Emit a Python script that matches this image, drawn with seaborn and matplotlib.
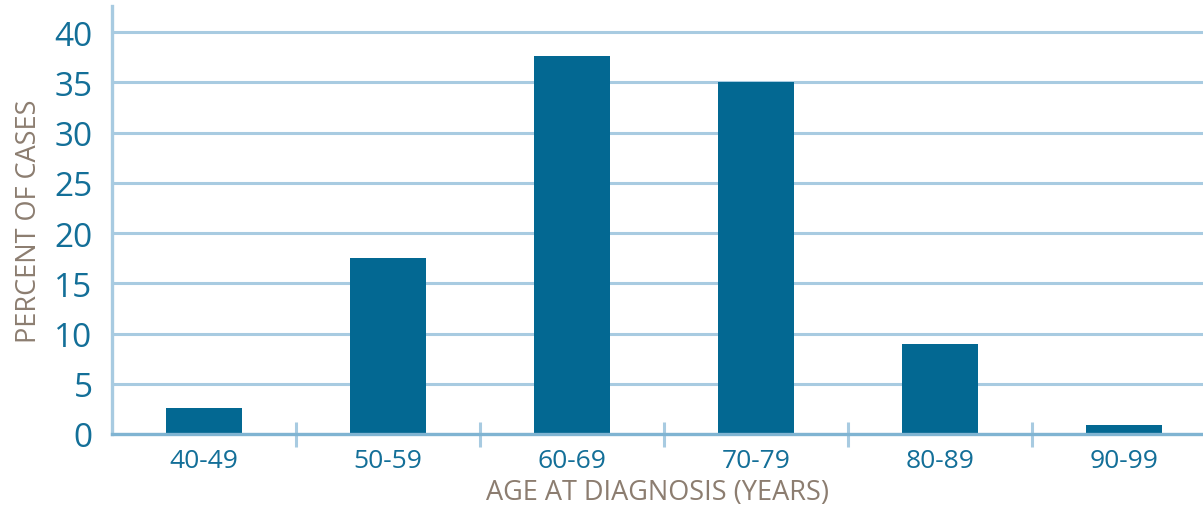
import matplotlib
matplotlib.use("Agg")
import matplotlib.pyplot as plt
import pandas as pd
import seaborn as sns
from matplotlib.ticker import FixedLocator

# data
age_groups = ["40-49", "50-59", "60-69", "70-79", "80-89", "90-99"]
percent_cases = [2.6, 17.5, 37.6, 35.0, 9.0, 0.9]
y_ticks = [0, 5, 10, 15, 20, 25, 30, 35, 40]

df = pd.DataFrame({"age": age_groups, "percent": percent_cases})

sns.set_style("white")
plt.rcParams["font.family"] = ["Open Sans", "DejaVu Sans"]

bar_color = "#036892"
grid_color = "#a8cbe1"
tick_color = "#136f98"
label_color = "#8c7d70"

fig = plt.figure(figsize=(12.03, 5.10), dpi=100)
ax = fig.add_axes([112 / 1203, 1 - 435 / 510, 1 - 112 / 1203, (435 - 7) / 510])

sns.barplot(data=df, x="age", y="percent", color=bar_color, width=0.41,
            saturation=1, linewidth=0, ax=ax, zorder=3)

ax.set_xlim(-0.5, 5.43)
ax.set_ylim(0, 42.6)
ax.set_yticks(y_ticks)
ax.grid(axis="y", color=grid_color, linewidth=2.2, zorder=0)
ax.set_axisbelow(True)

for side in ["top", "right"]:
    ax.spines[side].set_visible(False)
ax.spines["left"].set_color(grid_color)
ax.spines["left"].set_linewidth(2.4)
ax.spines["bottom"].set_color("#80b4d2")
ax.spines["bottom"].set_linewidth(2.4)
ax.spines["bottom"].set_zorder(4)

# separator marks between the age groups
ax.xaxis.set_minor_locator(FixedLocator([0.5, 1.5, 2.5, 3.5, 4.5]))
ax.tick_params(axis="x", which="minor", direction="inout", length=18,
               width=2.2, color=grid_color, bottom=True)
ax.tick_params(axis="x", which="major", length=0, pad=10,
               labelsize=19, labelcolor=tick_color)
ax.tick_params(axis="y", length=0, pad=14, labelsize=24,
               labelcolor=tick_color)

ax.set_xlabel("AGE AT DIAGNOSIS (YEARS)", fontsize=19.5, color=label_color,
              labelpad=4)
ax.set_ylabel("PERCENT OF CASES", fontsize=19.5, color=label_color,
              labelpad=8)

fig.savefig("out.png", dpi=100)
